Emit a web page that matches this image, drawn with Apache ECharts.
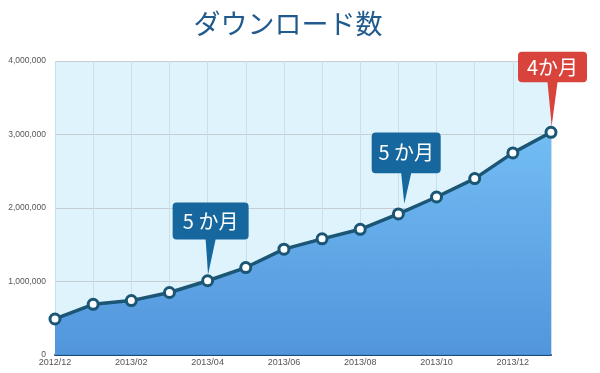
<!DOCTYPE html>
<html>
<head>
<meta charset="utf-8">
<script src="https://cdn.jsdelivr.net/npm/echarts@6/dist/echarts.min.js"></script>
<style>
html,body{margin:0;padding:0;background:#fff;}
#chart{width:600px;height:373px;}
</style>
</head>
<body>
<div id="chart"></div>
<script>
// ---- data ----
var categories = ['2012/12','2013/01','2013/02','2013/03','2013/04','2013/05','2013/06','2013/07','2013/08','2013/09','2013/10','2013/11','2013/12','2014/01'];
var downloads = [490000, 690000, 740000, 850000, 1010000, 1190000, 1440000, 1580000, 1710000, 1920000, 2150000, 2400000, 2750000, 3030000];
var yTicks = [0, 1000000, 2000000, 3000000, 4000000];
var titleText = 'ダウンロード数';
var calloutCats = ['2013/04', '2013/09', '2014/01'];
var calloutTexts = ['5 か月', '5 か月', '4か月'];

// ---- styling helpers ----
function calloutPath(w, h, p, dx) {
  var r = 4, cx = w / 2, b = 5;
  return 'path://M' + r + ',0 H' + (w - r) + ' Q' + w + ',0 ' + w + ',' + r +
    ' V' + (h - r) + ' Q' + w + ',' + h + ' ' + (w - r) + ',' + h +
    ' H' + (cx + b) + ' L' + (cx + dx) + ',' + (h + p) + ' L' + (cx - b) + ',' + h +
    ' H' + r + ' Q0,' + h + ' 0,' + (h - r) + ' V' + r + ' Q0,0 ' + r + ',0 Z';
}
var calloutStyles = [
  {w: 76, h: 37, p: 34.7, dx: -2.5, ox: 3, oy: -42.4, color: '#15679d'},
  {w: 69, h: 40.6, p: 30.7, dx: -1.9, ox: 7.8, oy: -45.7, color: '#15679d'},
  {w: 69, h: 30.6, p: 43.7, dx: -0.8, ox: 1.5, oy: -43.5, color: '#d8433b'}
];
var markData = calloutCats.map(function (c, i) {
  var s = calloutStyles[i];
  var idx = categories.indexOf(c);
  return {
    coord: [c, downloads[idx]],
    value: calloutTexts[i],
    symbol: calloutPath(s.w, s.h, s.p, s.dx),
    symbolSize: [s.w, s.h + s.p],
    symbolOffset: [s.ox, s.oy],
    itemStyle: {color: s.color},
    label: {
      show: true, position: 'inside', formatter: calloutTexts[i],
      color: '#fff', fontSize: 20, fontFamily: 'Noto Sans CJK JP',
      offset: [0, -s.p / 2]
    }
  };
});

var chart = echarts.init(document.getElementById('chart'), null, {renderer: 'canvas'});
chart.setOption({
  animation: false,
  backgroundColor: '#ffffff',
  title: {
    text: titleText, left: 283, top: 5, textAlign: 'center',
    textStyle: {fontFamily: 'Noto Sans CJK JP', fontSize: 27, fontWeight: 'normal', color: '#215a8c'}
  },
  grid: {
    left: 55, right: 49, top: 61, bottom: 18,
    show: true, backgroundColor: '#dff3fd', borderWidth: 0
  },
  xAxis: {
    type: 'category', data: categories, boundaryGap: false,
    axisLine: {show: true, lineStyle: {color: '#1d4a70', width: 2}},
    axisTick: {show: false},
    axisLabel: {interval: 1, margin: 3, fontSize: 9, color: '#555', fontFamily: 'Liberation Sans'},
    splitLine: {show: true, interval: 0, lineStyle: {color: '#c9dfea', width: 1}}
  },
  yAxis: {
    type: 'value', min: yTicks[0], max: yTicks[yTicks.length - 1], interval: yTicks[1] - yTicks[0],
    axisLine: {show: false}, axisTick: {show: false},
    axisLabel: {
      margin: 9, fontSize: 8.5, color: '#555', fontFamily: 'Liberation Sans',
      formatter: function (v) { return v.toLocaleString('en-US'); }
    },
    splitLine: {show: true, lineStyle: {color: '#c6ccd2', width: 1}}
  },
  series: [{
    type: 'line',
    data: downloads,
    symbol: 'circle', symbolSize: 10,
    lineStyle: {color: '#1b5675', width: 3.5},
    itemStyle: {color: '#ffffff', borderColor: '#1b5675', borderWidth: 3},
    areaStyle: {
      opacity: 0.95,
      color: new echarts.graphic.LinearGradient(0, 0, 0, 1, [
        {offset: 0, color: '#6dbaf3'},
        {offset: 1, color: '#4a90da'}
      ])
    },
    z: 3,
    markPoint: {
      data: markData,
      z: 5
    }
  }]
});
</script>
</body>
</html>
